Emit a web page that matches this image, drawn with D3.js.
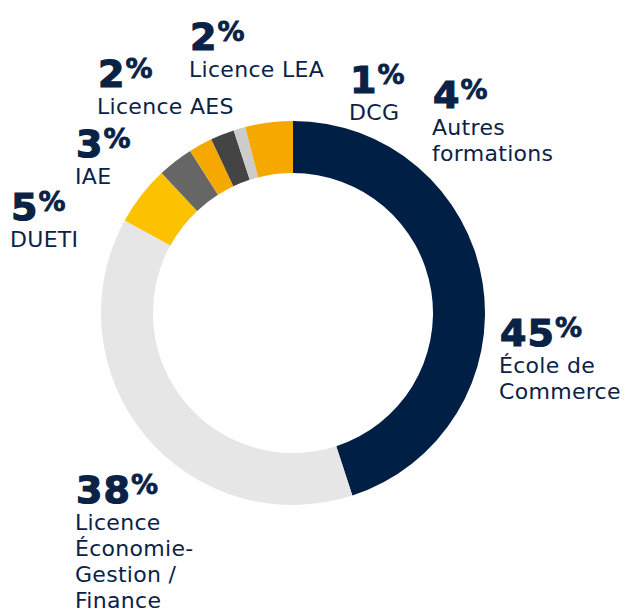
<!DOCTYPE html>
<html>
<head>
<meta charset="utf-8">
<script src="https://cdn.jsdelivr.net/npm/d3@7"></script>
<style>
  body { margin: 0; background: #fff; }
  svg { display: block; }
  .pct { font-family: "DejaVu Sans", sans-serif; font-weight: bold; fill: #0b2247; stroke: #0b2247; stroke-width: 1.2px; }
  .lbl { font-family: "DejaVu Sans", sans-serif; font-size: 22px; letter-spacing: 0.3px; fill: #0b2247; }
</style>
</head>
<body>
<svg id="chart" width="628" height="613"></svg>
<script>
// data, clockwise from 12 o'clock
const categories = ['École de Commerce', 'Licence Économie-Gestion / Finance', 'DUETI', 'IAE',
                    'Licence AES', 'Licence LEA', 'DCG', 'Autres formations'];
const shares = [45, 38, 5, 3, 2, 2, 1, 4];
const labelLines = [['École de', 'Commerce'], ['Licence', 'Économie-', 'Gestion /', 'Finance'],
                    ['DUETI'], ['IAE'], ['Licence AES'], ['Licence LEA'], ['DCG'], ['Autres', 'formations']];
const sliceColors = ['#001f45', '#e6e6e6', '#fcc200', '#666666', '#f5a800', '#444444', '#cccccc', '#f5a800'];

// where each label block sits (x, baseline of the big number)
const labelPos = [[499, 346], [75, 503], [10, 220], [75, 157], [97, 87], [189, 50], [349, 93], [432, 108]];

const cx = 293, cy = 313, rOut = 192, rIn = 140;

let svg = d3.select('#chart');
let g = svg.append('g').attr('transform', 'translate(' + cx + ',' + cy + ')');

let pie = d3.pie().sort(null).value(d => d);
let arc = d3.arc().innerRadius(rIn).outerRadius(rOut);

g.selectAll('path')
  .data(pie(shares))
  .enter().append('path')
  .attr('d', arc)
  .attr('fill', (d, i) => sliceColors[i]);

let labels = svg.selectAll('g.label')
  .data(categories)
  .enter().append('g')
  .attr('class', 'label')
  .attr('transform', (d, i) => 'translate(' + labelPos[i][0] + ',' + labelPos[i][1] + ')');

let pct = labels.append('text').attr('class', 'pct').attr('x', 1);
pct.append('tspan').style('font-size', '38px').style('letter-spacing', '1px').text((d, i) => shares[i]);
pct.append('tspan').style('font-size', '27px').style('stroke-width', '0.8px').attr('dy', -9).text('%');

// one text per label, lines as tspans
labels.append('text')
  .attr('class', 'lbl')
  .attr('y', 27)
  .each(function(d, i) {
    d3.select(this).selectAll('tspan')
      .data(labelLines[i])
      .enter().append('tspan')
      .attr('x', 0)
      .attr('dy', (t, j) => j === 0 ? 0 : 26)
      .text(t => t);
  });
</script>
</body>
</html>
